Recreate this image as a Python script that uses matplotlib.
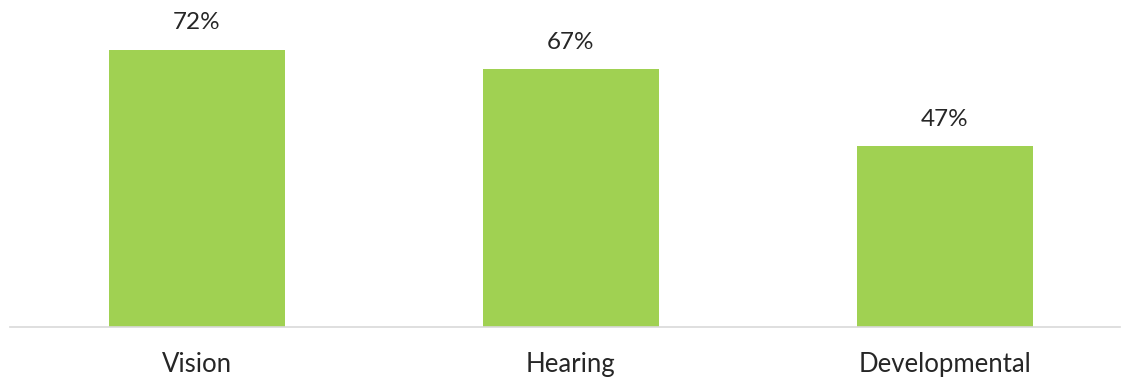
import matplotlib
matplotlib.use("Agg")
from matplotlib import pyplot as plt

categories = ["Vision", "Hearing", "Developmental"]
values = [72, 67, 47]
labels = ["72%", "67%", "47%"]

BAR_COLOR = "#A0D152"
TEXT_COLOR = "#262626"

plt.rcParams['font.family'] = ['Lato', 'DejaVu Sans']

fig = plt.figure(figsize=(11.23, 3.79), dpi=100)
ax = fig.add_axes([10 / 1123, 52 / 379, 1110 / 1123, 327 / 379])

x = range(len(categories))
bars = ax.bar(x, values, width=0.47, color=BAR_COLOR)

for bar, lab in zip(bars, labels):
    ax.annotate(lab, (bar.get_x() + bar.get_width() / 2, bar.get_height()),
                xytext=(0, 12), textcoords="offset points",
                ha="center", va="bottom", fontsize=17.5, color=TEXT_COLOR)

ax.set_xlim(-0.5, 2.468)
ax.set_ylim(0, 85)
ax.set_xticks(list(x))
ax.set_xticklabels(categories, fontsize=18.5, color=TEXT_COLOR)
ax.tick_params(axis='x', length=0, pad=18)
ax.set_yticks([])

for side in ['top', 'right', 'left']:
    ax.spines[side].set_visible(False)
ax.spines['bottom'].set_color('#D9D9D9')
ax.spines['bottom'].set_linewidth(1.2)

fig.savefig("out.png", dpi=100)
